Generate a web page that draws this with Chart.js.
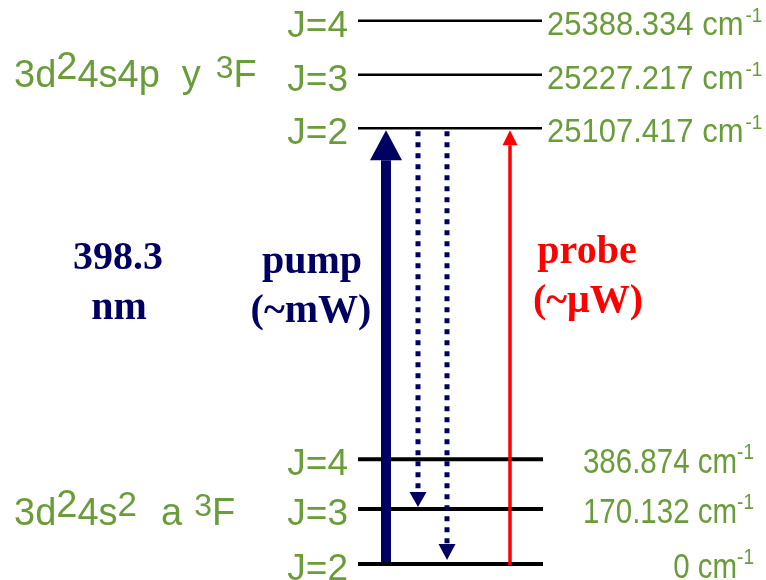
<!DOCTYPE html>
<html>
<head>
<meta charset="utf-8">
<script src="https://cdn.jsdelivr.net/npm/chart.js@4.4.1/dist/chart.umd.min.js"></script>
<style>
  html, body { margin: 0; padding: 0; background: #fff; }
  #wrap { width: 766px; height: 580px; }
</style>
</head>
<body>
<div id="wrap"><canvas id="levels" width="766" height="580"></canvas></div>
<script>
// Niveles del término superior 3d2 4s4p y3F (fila en el diagrama + energía en cm-1)
const upperJ = ['J=4', 'J=3', 'J=2'];
const upperEnergy = ['25388.334', '25227.217', '25107.417'];
const upperRow = [10.06, 9.06, 8.07];

// Niveles del término inferior 3d2 4s2 a3F
const lowerJ = ['J=4', 'J=3', 'J=2'];
const lowerEnergy = ['386.874', '170.132', '0'];
const lowerRow = [1.94, 1.02, 0];

// Transiciones (bombeo, decaimientos y sonda)
const transitionNames = ['pump', 'decay to J=3', 'decay to J=2', 'probe'];
const transitionFrom = [lowerRow[2], upperRow[2], upperRow[2], lowerRow[2]];
const transitionTo = [upperRow[2], lowerRow[1], lowerRow[2], upperRow[2]];

// Textos
const wavelengthText = ['398.3', 'nm'];
const pumpText = ['pump', '(~mW)'];
const probeText = ['probe', '(~\u03BCW)'];

// Disposición horizontal (unidades del eje x)
const levelX = [358, 542];
const transitionX = [386, 418, 447, 510];

const GREEN = '#6a9c3a';
const NAVY = '#000062';
const RED = '#ff0000';
const SANS = '"Liberation Sans", Arial, sans-serif';
const SERIF = '"Liberation Serif", "Times New Roman", serif';

const arrowStyles = [
  { color: NAVY, width: 10, dash: [], startGap: 2, tipGap: 2, headLen: 30, headW: 32 },
  { color: NAVY, width: 5, dash: [5, 6], startGap: 3, tipGap: 2, headLen: 15, headW: 17 },
  { color: NAVY, width: 5, dash: [5, 6], startGap: 3, tipGap: 4, headLen: 16, headW: 17 },
  { color: RED, width: 3.5, dash: [], startGap: -1, tipGap: 2, headLen: 15, headW: 15 }
];

// Dibuja texto con partes elevadas (superíndices); y = línea base, sy = estiramiento vertical
function drawRich(ctx, segs, x, y, align, sy) {
  let total = 0;
  const widths = segs.map(s => {
    ctx.font = `${s.size || 38}px ${SANS}`;
    const w = ctx.measureText(s.t).width;
    total += w + (s.dx || 0);
    return w;
  });
  let cx = align === 'right' ? -total : 0;
  ctx.save();
  ctx.translate(x, y);
  ctx.scale(1, sy || 1);
  ctx.textAlign = 'left';
  segs.forEach((s, i) => {
    ctx.font = `${s.size || 38}px ${SANS}`;
    cx += s.dx || 0;
    ctx.fillText(s.t, cx, -(s.raise || 0));
    cx += widths[i];
  });
  ctx.restore();
}

const arrowPlugin = {
  id: 'arrows',
  afterDatasetsDraw(chart) {
    const { ctx, scales: { x, y } } = chart;
    transitionNames.forEach((name, i) => {
      const st = arrowStyles[i];
      const px = x.getPixelForValue(transitionX[i]);
      const y0 = y.getPixelForValue(transitionFrom[i]);
      const y1 = y.getPixelForValue(transitionTo[i]);
      const dir = y1 < y0 ? -1 : 1;
      const tip = y1 - dir * st.tipGap;
      const base = tip - dir * st.headLen;
      ctx.save();
      ctx.strokeStyle = st.color;
      ctx.lineWidth = st.width;
      ctx.lineCap = 'butt';
      ctx.setLineDash(st.dash);
      ctx.beginPath();
      ctx.moveTo(px, y0 + dir * st.startGap);
      ctx.lineTo(px, base);
      ctx.stroke();
      ctx.setLineDash([]);
      ctx.fillStyle = st.color;
      ctx.beginPath();
      ctx.moveTo(px, tip);
      ctx.lineTo(px - st.headW / 2, base);
      ctx.lineTo(px + st.headW / 2, base);
      ctx.closePath();
      ctx.fill();
      ctx.restore();
    });
  }
};

const labelPlugin = {
  id: 'labels',
  afterDraw(chart) {
    const { ctx, scales: { x, y } } = chart;
    ctx.save();
    ctx.fillStyle = GREEN;
    ctx.textBaseline = 'alphabetic';

    // J a la izquierda de cada nivel
    ctx.font = `37px ${SANS}`;
    ctx.textAlign = 'right';
    upperJ.forEach((j, i) => ctx.fillText(j, x.getPixelForValue(348), y.getPixelForValue(upperRow[i]) + 16));
    lowerJ.forEach((j, i) => ctx.fillText(j, x.getPixelForValue(348), y.getPixelForValue(lowerRow[i]) + 16));

    // Energías
    upperEnergy.forEach((e, i) => {
      drawRich(ctx, [{ t: e + ' cm', size: 31 }, { t: '-1', size: 19, raise: 12, dx: 2 }],
        x.getPixelForValue(547), y.getPixelForValue(upperRow[i]) + 14, 'left', 1.1);
    });
    lowerEnergy.forEach((e, i) => {
      drawRich(ctx, [{ t: e + ' cm', size: 29.5 }, { t: '-1', size: 19, raise: 12 }],
        x.getPixelForValue(754), y.getPixelForValue(lowerRow[i]) + 14, 'right', 1.18);
    });

    // Configuraciones
    drawRich(ctx, [
      { t: '3d' }, { t: '2', raise: 8 }, { t: '4s4p' }, { t: 'y', dx: 22 },
      { t: '3', size: 32, raise: 9, dx: 15 }, { t: 'F' }
    ], x.getPixelForValue(14), y.getPixelForValue(upperRow[1]) + 12, 'left', 1);
    drawRich(ctx, [
      { t: '3d' }, { t: '2', raise: 8 }, { t: '4s' }, { t: '2', size: 35, raise: 9 },
      { t: 'a', dx: 24 }, { t: '3', size: 32, raise: 9, dx: 12 }, { t: 'F' }
    ], x.getPixelForValue(14), y.getPixelForValue(lowerRow[1]) + 16, 'left', 1);

    // Textos centrales
    ctx.textAlign = 'center';
    ctx.font = `bold 40px ${SERIF}`;
    ctx.fillStyle = NAVY;
    ctx.fillText(wavelengthText[0], x.getPixelForValue(118), y.getPixelForValue(5.46));
    ctx.fillText(wavelengthText[1], x.getPixelForValue(119), y.getPixelForValue(4.54));
    ctx.fillText(pumpText[0], x.getPixelForValue(312), y.getPixelForValue(5.39));
    ctx.fillText(pumpText[1], x.getPixelForValue(311), y.getPixelForValue(4.48));
    ctx.fillStyle = RED;
    ctx.fillText(probeText[0], x.getPixelForValue(587), y.getPixelForValue(5.57));
    ctx.fillText(probeText[1], x.getPixelForValue(588), y.getPixelForValue(4.67));
    ctx.restore();
  }
};

const levelDatasets = [];
upperRow.forEach(r => levelDatasets.push({
  data: [{ x: levelX[0], y: r }, { x: levelX[1], y: r }],
  borderColor: '#000', borderWidth: 2.5, pointRadius: 0, showLine: true
}));
lowerRow.forEach(r => levelDatasets.push({
  data: [{ x: levelX[0], y: r }, { x: levelX[1] + 1, y: r }],
  borderColor: '#000', borderWidth: 4, pointRadius: 0, showLine: true
}));

new Chart(document.getElementById('levels'), {
  type: 'scatter',
  data: { datasets: levelDatasets },
  options: {
    responsive: false,
    animation: false,
    layout: { padding: 0 },
    plugins: { legend: { display: false }, tooltip: { enabled: false } },
    scales: {
      x: { type: 'linear', min: 0, max: 766, display: false },
      y: { type: 'linear', min: -0.296, max: 10.444, display: false }
    }
  },
  plugins: [arrowPlugin, labelPlugin]
});
</script>
</body>
</html>
